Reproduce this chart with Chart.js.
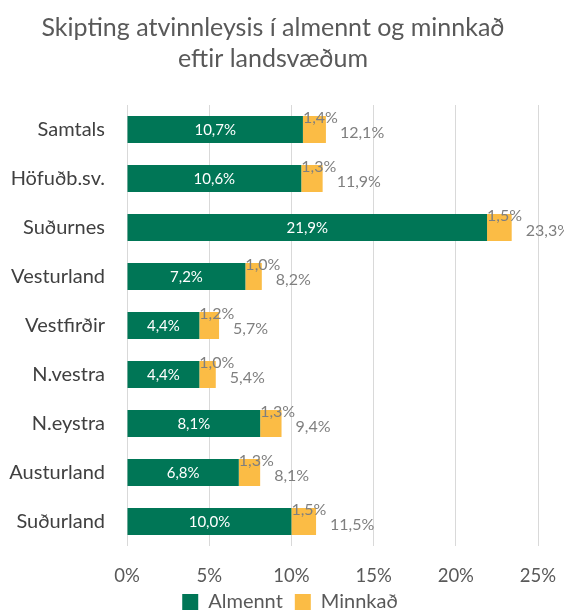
<!DOCTYPE html>
<html>
<head>
<meta charset="utf-8">
<script src="https://cdn.jsdelivr.net/npm/chart.js@4.4.1/dist/chart.umd.min.js"></script>
<style>
  html, body { margin: 0; padding: 0; background: #fff; }
  #wrap { width: 564px; height: 612px; }
</style>
</head>
<body>
<div id="wrap"><canvas id="myChart" width="564" height="612"></canvas></div>
<script>
const regions = ['Samtals', 'Höfuðb.sv.', 'Suðurnes', 'Vesturland', 'Vestfirðir', 'N.vestra', 'N.eystra', 'Austurland', 'Suðurland'];
const almennt = [10.7, 10.6, 21.9, 7.2, 4.4, 4.4, 8.1, 6.8, 10.0];
const minnkad = [1.4, 1.3, 1.5, 1.0, 1.2, 1.0, 1.3, 1.3, 1.5];
const totals = [12.1, 11.9, 23.3, 8.2, 5.7, 5.4, 9.4, 8.1, 11.5];
const xTicks = [0, 5, 10, 15, 20, 25];

const FONT = 'Lato, "Open Sans", sans-serif';

function pct(v) {
  return v.toFixed(1).replace('.', ',') + '%';
}

// draws value labels like the excel original
const barLabels = {
  id: 'barLabels',
  afterLayout(chart) {
    // excel puts the legend a bit right of centre and close under the ticks
    chart.legend.left += 17;
    chart.legend.right += 17;
    chart.legend.top -= 14;
    chart.legend.bottom -= 14;
  },
  afterDatasetsDraw(chart) {
    const ctx = chart.ctx;
    const green = chart.getDatasetMeta(0).data;
    const orange = chart.getDatasetMeta(1).data;
    ctx.save();
    ctx.textBaseline = 'middle';
    green.forEach((bar, i) => {
      ctx.font = '15px ' + FONT;
      ctx.fillStyle = '#ffffff';
      ctx.textAlign = 'center';
      ctx.fillText(pct(almennt[i]), (bar.base + bar.x) / 2, bar.y + 1);
    });
    orange.forEach((bar, i) => {
      const top = bar.y - bar.height / 2;
      ctx.font = '16px ' + FONT;
      ctx.fillStyle = '#7f7f7f';
      ctx.textAlign = 'left';
      ctx.fillText(pct(minnkad[i]), bar.base, top + 2);
      ctx.fillText(pct(totals[i]), bar.x + 14, bar.y + 3);
    });
    ctx.restore();
  }
};

const data = {
  labels: regions,
  datasets: [
    { label: 'Almennt', data: almennt, backgroundColor: '#007656' },
    { label: 'Minnkað', data: minnkad, backgroundColor: '#fbbc45' }
  ]
};

const config = {
  type: 'bar',
  data,
  options: {
    indexAxis: 'y',
    responsive: false,
    animation: false,
    datasets: { bar: { categoryPercentage: 1, barPercentage: 0.55 } },
    layout: { padding: { left: 8, right: 26, top: 0, bottom: -24 } },
    plugins: {
      title: {
        display: true,
        text: ['Skipting atvinnleysis í almennt og minnkað', 'eftir landsvæðum'],
        color: '#595959',
        font: { family: FONT, size: 25, weight: 'normal', lineHeight: 1.24 },
        padding: { top: 12, bottom: 31 }
      },
      legend: {
        position: 'bottom',
        labels: {
          color: '#595959',
          font: { family: FONT, size: 20 },
          boxWidth: 16,
          boxHeight: 16,
          padding: 12
        }
      },
      tooltip: { enabled: false }
    },
    scales: {
      x: {
        stacked: true,
        min: 0,
        max: 25,
        afterBuildTicks: (axis) => { axis.ticks = xTicks.map(v => ({ value: v })); },
        afterFit: (axis) => {
          axis.height = 48;
          axis.paddingLeft = 0;
          axis.paddingRight = 0;
        },
        ticks: {
          callback: v => v + '%',
          color: '#595959',
          font: { family: FONT, size: 18.5 },
          padding: 19
        },
        grid: { color: '#d9d9d9', lineWidth: 1, drawTicks: false, tickLength: 0 },
        border: { display: false }
      },
      y: {
        stacked: true,
        afterFit: (axis) => {
          axis.width = 119;
          axis.paddingTop = 0;
          axis.paddingBottom = 0;
        },
        ticks: {
          color: '#404040',
          font: { family: FONT, size: 20 },
          padding: 22
        },
        grid: { display: false, drawTicks: false, tickLength: 0 },
        border: { display: false }
      }
    }
  },
  plugins: [barLabels]
};

const myChart = new Chart(document.getElementById('myChart'), config);
</script>
</body>
</html>
